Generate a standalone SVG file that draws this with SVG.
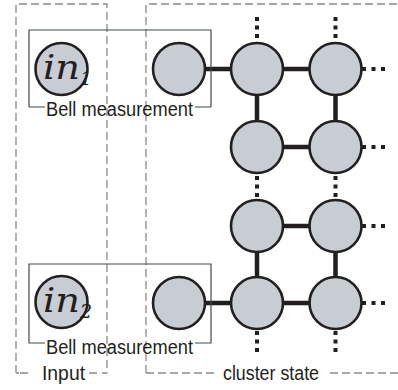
<svg xmlns="http://www.w3.org/2000/svg" width="398" height="390" viewBox="0 0 398 390">
<style>
.dash{fill:none;stroke:#8a8a8a;stroke-width:1.3;stroke-dasharray:8 4}
.bell{fill:none;stroke:#3f4b49;stroke-width:1.2}
.node{fill:#c8ccd3;stroke:#231f20;stroke-width:2.6}
.edge{stroke:#231f20;stroke-width:4.5}
.lbl{font-family:"Liberation Sans",Arial,sans-serif;font-size:20px;fill:#231f20}
.in{font-family:"DejaVu Serif","Liberation Serif",serif;font-style:italic;fill:#231f20}
</style>
<defs>
<g id="dotsV"><rect x="-2" y="-2" width="4" height="4"/><rect x="-2" y="6.5" width="4" height="4"/><rect x="-2" y="15" width="4" height="4"/></g>
<g id="dotsH"><rect x="-2" y="-2" width="4" height="4"/><rect x="7.5" y="-2" width="4" height="4"/><rect x="17" y="-2" width="4" height="4"/></g>
</defs>
<g id="input-box">
<path class="dash" d="M16 373 V4 H107 V373"/>
<path class="dash" d="M16 373 H19 M20 373 H29"/>
<path class="dash" d="M89 373 H98 M102 373 H107"/>
<text class="lbl" x="42" y="380" textLength="43" lengthAdjust="spacingAndGlyphs">Input</text>
</g>
<g id="cluster-box">
<path class="dash" d="M146 373 V4 H398"/>
<path class="dash" d="M146 373 H218"/>
<path class="dash" d="M330 373 H398"/>
<text class="lbl" x="223" y="380" textLength="96" lengthAdjust="spacingAndGlyphs">cluster state</text>
</g>
<g id="connectors">
<line class="edge" x1="179" y1="69" x2="335.5" y2="69"/>
<line class="edge" x1="257" y1="147" x2="335.5" y2="147"/>
<line class="edge" x1="257" y1="226" x2="335.5" y2="226"/>
<line class="edge" x1="179" y1="303" x2="335.5" y2="303"/>
<line class="edge" x1="257" y1="69" x2="257" y2="147"/>
<line class="edge" x1="335.5" y1="69" x2="335.5" y2="147"/>
<line class="edge" x1="257" y1="226" x2="257" y2="303"/>
<line class="edge" x1="335.5" y1="226" x2="335.5" y2="303"/>
<g fill="#231f20">
<use href="#dotsV" x="257" y="19"/>
<use href="#dotsV" x="335.5" y="19"/>
<use href="#dotsV" x="257" y="178"/>
<use href="#dotsV" x="335.5" y="178"/>
<use href="#dotsV" x="257" y="333"/>
<use href="#dotsV" x="335.5" y="333"/>
<use href="#dotsH" x="364" y="69"/>
<use href="#dotsH" x="364" y="147"/>
<use href="#dotsH" x="364" y="226"/>
<use href="#dotsH" x="364" y="303"/>
</g>
</g>
<g id="bell-1">
<path class="bell" d="M45 107 H29 V30 H211 V107 H195"/>
<text class="lbl" x="46" y="116" textLength="147" lengthAdjust="spacingAndGlyphs">Bell measurement</text>
</g>
<g id="bell-2">
<path class="bell" d="M45 343 H29 V264 H211 V343 H195"/>
<text class="lbl" x="46" y="354" textLength="147" lengthAdjust="spacingAndGlyphs">Bell measurement</text>
</g>
<g id="in1">
<circle class="node" cx="61.5" cy="69" r="26"/>
<text class="in" x="43" y="79" font-size="34" textLength="37" lengthAdjust="spacingAndGlyphs">in</text>
<text class="in" x="80" y="85" font-size="19">1</text>
</g>
<g id="in2">
<circle class="node" cx="61.5" cy="302" r="26"/>
<text class="in" x="43" y="312" font-size="34" textLength="37" lengthAdjust="spacingAndGlyphs">in</text>
<text class="in" x="80" y="318" font-size="19">2</text>
</g>
<g id="n-a1"><circle class="node" cx="179" cy="69" r="26"/></g>
<g id="n-a2"><circle class="node" cx="179" cy="303" r="26"/></g>
<g id="n-11"><circle class="node" cx="257" cy="69" r="26"/></g>
<g id="n-12"><circle class="node" cx="335.5" cy="69" r="26"/></g>
<g id="n-21"><circle class="node" cx="257" cy="147" r="26"/></g>
<g id="n-22"><circle class="node" cx="335.5" cy="147" r="26"/></g>
<g id="n-31"><circle class="node" cx="257" cy="226" r="26"/></g>
<g id="n-32"><circle class="node" cx="335.5" cy="226" r="26"/></g>
<g id="n-41"><circle class="node" cx="257" cy="303" r="26"/></g>
<g id="n-42"><circle class="node" cx="335.5" cy="303" r="26"/></g>
</svg>
